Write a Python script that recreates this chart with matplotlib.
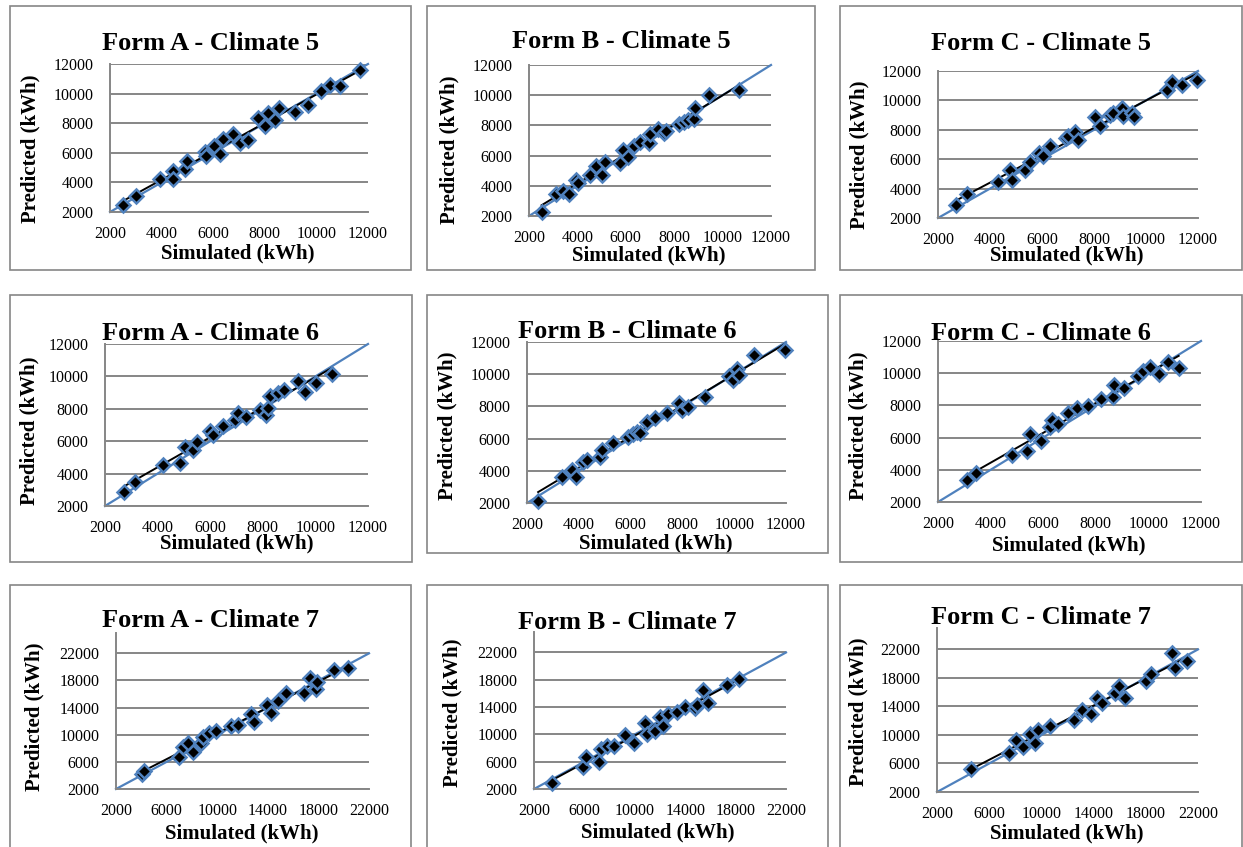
import numpy as np
import matplotlib
matplotlib.use('Agg')
import matplotlib.pyplot as plt
from matplotlib.patches import Rectangle

plt.rcParams['font.family'] = ['Liberation Serif', 'DejaVu Serif']

# Simulated vs predicted energy use (kWh)
sim_a5 = [2500, 3000, 3950, 4430, 4450, 4900, 4970, 5680, 5740, 6040, 6260, 6390, 6770,
          7030, 7350, 7740, 8000, 8130, 8390, 8550, 9160, 9680, 10190, 10520, 10900, 11680]
pred_a5 = [2450, 3100, 4200, 4780, 4210, 4930, 5450, 6060, 5770, 6450, 5950, 6900, 7300,
           6630, 6850, 8320, 7800, 8670, 8250, 9000, 8770, 9220, 10190, 10580, 10510, 11600]

sim_b5 = [2520, 3120, 3420, 3670, 3940, 4040, 4520, 4770, 5010, 5140, 5770, 5900, 6110, 6320,
          6590, 6940, 6980, 7310, 7560, 7670, 8180, 8390, 8590, 8800, 8870, 9420, 10660]
pred_b5 = [2240, 3460, 3680, 3430, 4380, 4160, 4720, 5330, 4720, 5600, 5490, 6370, 5930, 6660,
           6920, 6810, 7410, 7740, 7470, 7630, 8090, 8250, 8360, 8400, 9130, 10010, 10340]

sim_c5 = [2710, 3120, 4310, 4760, 4830, 5340, 5530, 5890, 6050, 6310, 6920, 7010, 7270, 7400,
          8040, 8230, 8620, 8720, 9070, 9130, 9460, 9520, 10800, 10990, 11380, 11960]
pred_c5 = [2900, 3650, 4480, 5270, 4600, 5270, 5840, 6450, 6220, 6900, 7420, 7580, 7870, 7300,
           8840, 8250, 9000, 9160, 9450, 8930, 9110, 8840, 10740, 11250, 11030, 11410]

sim_a6 = [2720, 3140, 4220, 4850, 5040, 5350, 5510, 5990, 6110, 6470, 6940, 7070, 7380, 7890,
          8110, 8200, 8270, 8580, 8800, 9320, 9590, 10010, 10650]
pred_a6 = [2840, 3500, 4530, 4670, 5620, 5460, 5930, 6630, 6380, 6960, 7310, 7760, 7510, 7930,
           7620, 8030, 8790, 8950, 9160, 9740, 9060, 9570, 10150]

sim_b6 = [2430, 3370, 3720, 3880, 4170, 4300, 4810, 4880, 5330, 5910, 6100, 6230, 6360, 6620,
          6940, 7400, 7850, 7970, 8230, 8880, 9780, 9970, 10100, 10170, 10750, 11970]
pred_b6 = [2120, 3620, 4080, 3620, 4560, 4660, 4870, 5290, 5700, 6120, 6260, 6430, 6320, 7050,
           7260, 7570, 8200, 7780, 7990, 8610, 9860, 9650, 10320, 9960, 11210, 11520]

sim_c6 = [3110, 3440, 4800, 5370, 5490, 5900, 6260, 6320, 6570, 6960, 7270, 7720, 8190, 8670,
          8700, 9080, 9620, 9790, 10070, 10420, 10730, 11150]
pred_c6 = [3390, 3800, 4900, 5170, 6250, 5800, 6670, 7120, 6830, 7500, 7850, 7950, 8370, 8540,
           9260, 9050, 9820, 10150, 10360, 9930, 10710, 10300]

sim_a7 = [4030, 4240, 7000, 7260, 7710, 8050, 8710, 8840, 9370, 9890, 11080, 11660, 12660, 12920,
          13970, 14240, 14820, 15420, 16870, 17340, 17790, 17920, 19240, 20340]
pred_a7 = [4210, 4650, 6770, 8240, 8730, 7500, 8730, 9710, 10200, 10600, 11290, 11430, 13060, 11930,
           14380, 13150, 15020, 16100, 16100, 18310, 16740, 17820, 19540, 19790]

sim_b7 = [3390, 5870, 6130, 7120, 7310, 7830, 8350, 9190, 9920, 10780, 10970, 11570, 12010, 12270,
          12610, 13320, 13970, 14760, 14970, 15410, 15800, 17320, 18290]
pred_b7 = [2910, 5290, 6630, 5910, 7820, 8300, 8300, 9970, 8780, 11640, 10060, 10450, 12600, 11160,
           12920, 13310, 14030, 13890, 14370, 16560, 14650, 17230, 18180]

sim_c7 = [4630, 7520, 8080, 8590, 9100, 9480, 9740, 10630, 12470, 13140, 13830, 14260, 14680,
          15620, 15950, 16390, 17990, 18420, 20030, 20210, 21160]
pred_c7 = [5230, 7480, 9350, 8320, 10200, 8890, 10760, 11230, 12070, 13570, 12870, 15210, 14510,
           15910, 16850, 15210, 17550, 18490, 21530, 19420, 20360]

titles = ["Form A - Climate 5", "Form B - Climate 5", "Form C - Climate 5",
          "Form A - Climate 6", "Form B - Climate 6", "Form C - Climate 6",
          "Form A - Climate 7", "Form B - Climate 7", "Form C - Climate 7"]
series = [(sim_a5, pred_a5), (sim_b5, pred_b5), (sim_c5, pred_c5),
          (sim_a6, pred_a6), (sim_b6, pred_b6), (sim_c6, pred_c6),
          (sim_a7, pred_a7), (sim_b7, pred_b7), (sim_c7, pred_c7)]
ticks_small = [2000, 4000, 6000, 8000, 10000, 12000]
ticks_large = [2000, 6000, 10000, 14000, 18000, 22000]

# layout in pixels: frame (l, t, r, b), axes (l, t, r, b), title y,
# x-label centre, y-label centre
W, H = 1243, 847
frames = [(10, 6, 411, 270), (427, 6, 815, 270), (840, 6, 1242, 270),
          (10, 295, 412, 562), (427, 295, 828, 553), (840, 295, 1242, 562),
          (10, 585, 411, 860), (427, 585, 828, 860), (840, 585, 1242, 860)]
boxes = [(110, 64, 368, 212), (529, 65, 771, 216), (938, 71, 1198, 218),
         (105, 344, 368, 506), (527, 342, 786, 503), (938, 341, 1201, 502),
         (116, 633, 369, 789), (534, 632, 786, 789), (937, 628, 1198, 792)]
title_y = [43, 42, 43, 333, 332, 333, 620, 622, 617]
xlab_pos = [(238, 253), (649, 255), (1067, 255),
            (237, 543), (656, 543), (1069, 545),
            (242, 833), (658, 832), (1067, 833)]
ylab_pos = [(30, 149), (449, 150), (859, 155),
            (29, 431), (447, 426), (858, 426),
            (34, 717), (452, 713), (858, 712)]

GREY = '#868686'
BLUE = '#4f81bd'

fig = plt.figure(figsize=(W / 100, H / 100), dpi=100)

for i, (title, (sim, pred)) in enumerate(zip(titles, series)):
    fl, ft, fr, fb = frames[i]
    fig.patches.append(Rectangle((fl / W, 1 - fb / H), (fr - fl) / W, (fb - ft) / H,
                                 transform=fig.transFigure, fill=False,
                                 ec=GREY, lw=1.2, zorder=0))
    l, t, r, b = boxes[i]
    ax = fig.add_axes([l / W, 1 - b / H, (r - l) / W, (b - t) / H])

    big = i >= 6
    ticks = ticks_large if big else ticks_small
    lo, hi = ticks[0], ticks[-1]
    ax.set_xlim(lo, hi)
    ax.set_ylim(lo, 25000 if big else hi)

    sim = np.array(sim)
    pred = np.array(pred)
    # y = x reference
    ax.plot([lo, hi], [lo, hi], color=BLUE, lw=1.6, zorder=2, clip_on=False)
    # linear trend over the data range
    k, c = np.polyfit(sim, pred, 1)
    xs = np.array([sim.min(), sim.max()])
    ax.plot(xs, k * xs + c, color='black', lw=1.4, zorder=3)
    ax.plot(sim, pred, linestyle='none', marker='D', ms=7.5, mfc='black',
            mec=BLUE, mew=1.8, zorder=4, clip_on=False)

    ax.set_xticks(ticks)
    ax.set_yticks(ticks)
    ax.yaxis.grid(True, color=GREY, lw=1.4)
    ax.set_axisbelow(True)
    ax.tick_params(length=0, labelsize=11.5)
    ax.tick_params(axis='x', pad=10)
    ax.tick_params(axis='y', pad=12)
    for s in ('top', 'right'):
        ax.spines[s].set_visible(False)
    for s in ('left', 'bottom'):
        ax.spines[s].set_color(GREY)
        ax.spines[s].set_linewidth(1.4)

    ax.set_xlabel("Simulated (kWh)", fontsize=15, fontweight='bold', va='center')
    ax.set_ylabel("Predicted (kWh)", fontsize=15, fontweight='bold', va='center', ha='center')
    xx, xy = xlab_pos[i]
    yx, yy = ylab_pos[i]
    ax.xaxis.set_label_coords(xx / W, 1 - xy / H, transform=fig.transFigure)
    ax.yaxis.set_label_coords(yx / W, 1 - yy / H, transform=fig.transFigure)
    fig.text((fl + fr) / 2 / W, 1 - title_y[i] / H, title,
             ha='center', va='center', fontsize=19, fontweight='bold')

fig.savefig('out.png', dpi=100)
